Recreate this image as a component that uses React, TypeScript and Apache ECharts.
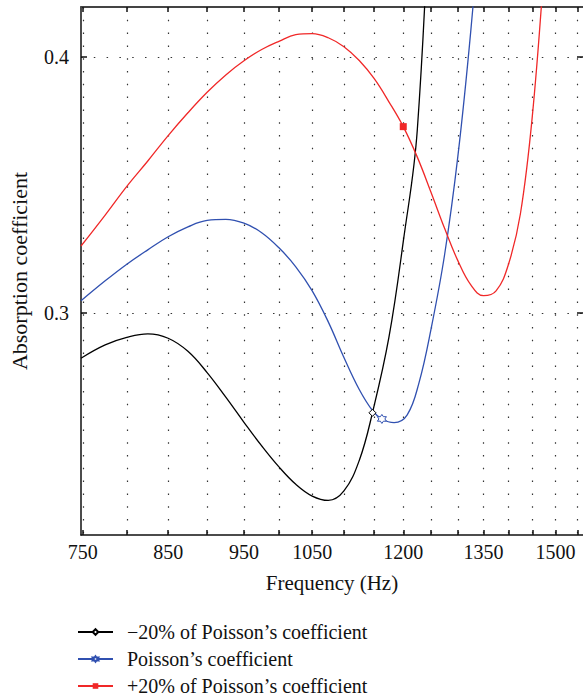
import React, { useEffect, useRef } from 'react';
import * as echarts from 'echarts';

// Axis ticks (Hz) and labels
const freqTicks = [750, 800, 850, 900, 950, 1000, 1050, 1100, 1150, 1200, 1250, 1300, 1350, 1400, 1450, 1500, 1550];
const freqLabels = [750, 850, 950, 1050, 1200, 1350, 1500];
const yTicks = [0.3, 0.4];

// -20% of Poisson's coefficient
const blackFreq = [748, 775, 800, 825, 850, 875, 900, 925, 950, 975, 1000, 1025, 1050, 1075, 1100, 1125, 1147, 1175, 1200, 1225, 1250];
const blackVal = [0.2824, 0.2876, 0.2905, 0.2919, 0.2902, 0.2851, 0.2768, 0.2672, 0.2574, 0.2482, 0.24, 0.2332, 0.2286, 0.2269, 0.2306, 0.2425, 0.2611, 0.2905, 0.3279, 0.3716, 0.48];
const blackMarker = 1147;

// Poisson's coefficient
const blueFreq = [748, 775, 800, 825, 850, 875, 900, 925, 950, 975, 1000, 1025, 1050, 1075, 1100, 1125, 1147, 1163, 1184, 1207, 1228, 1250, 1275, 1300, 1325, 1350];
const blueVal = [0.3048, 0.3126, 0.3191, 0.3247, 0.3298, 0.3337, 0.3362, 0.3366, 0.3351, 0.3314, 0.3255, 0.3181, 0.3087, 0.2966, 0.2827, 0.2702, 0.262, 0.2587, 0.2573, 0.2603, 0.2728, 0.2939, 0.3228, 0.3611, 0.4103, 0.47];
const blueMarker = 1163;

// +20% of Poisson's coefficient
const redFreq = [748, 775, 800, 825, 850, 875, 900, 925, 950, 975, 1000, 1025, 1050, 1075, 1100, 1125, 1150, 1175, 1200, 1225, 1250, 1275, 1300, 1325, 1350, 1375, 1400, 1425, 1450, 1475];
const redVal = [0.3262, 0.3383, 0.3495, 0.3594, 0.3693, 0.3782, 0.3862, 0.393, 0.3985, 0.4029, 0.4061, 0.4087, 0.4091, 0.4075, 0.404, 0.3986, 0.3915, 0.3825, 0.3728, 0.3609, 0.3471, 0.3331, 0.3205, 0.311, 0.3068, 0.3087, 0.3189, 0.3388, 0.3767, 0.4341];
const redMarker = 1200;

const names = ['\u221220% of Poisson\u2019s coefficient', 'Poisson\u2019s coefficient', '+20% of Poisson\u2019s coefficient'];

const STAR = 'path://M0,-10L2.887,-5L8.66,-5L5.774,0L8.66,5L2.887,5L0,10L-2.887,5L-8.66,5L-5.774,0L-8.66,-5L-2.887,-5Z';

export default function App() {
  const ref = useRef<HTMLDivElement>(null);
  useEffect(() => {
    const chart = echarts.init(ref.current!, null, { renderer: 'svg' });
    const L = Math.log;
    const serif = '"Liberation Serif", "DejaVu Serif", serif';
    const build = (fs: number[], vs: number[], mf: number) =>
      fs.map((f, i) => (f === mf ? { value: [L(f), vs[i]] } : { value: [L(f), vs[i]], symbol: 'none' }));
    const xmin = L(748);
    const xmax = L(1562);
    const fmt = (v: number) => String(Math.round(Math.exp(v)));
    const grid = '#333';
    const yMin = 0.2134;
    const yMax = 0.4195;
    const SM = 0.4;
    chart.setOption({
      animation: false,
      grid: { left: 79, right: 0, top: 7, bottom: 164, containLabel: false },
      legend: {
        orient: 'vertical',
        left: 77,
        top: 622,
        padding: 0,
        itemWidth: 35,
        itemHeight: 7,
        itemGap: 7,
        textStyle: { fontFamily: serif, fontSize: 20, color: '#111', padding: [0, 0, 0, 9] },
        data: names,
      },
      xAxis: [
        {
          type: 'value',
          min: xmin,
          max: xmax,
          name: 'Frequency (Hz)',
          nameLocation: 'middle',
          nameGap: 37,
          nameTextStyle: { fontFamily: serif, fontSize: 21, color: '#111' },
          axisLine: { show: true, onZero: false, lineStyle: { color: '#111', width: 1.5 } },
          axisTick: { show: true, inside: true, length: 5, customValues: freqTicks.map(L), lineStyle: { color: '#111', width: 1.5 } },
          axisLabel: { customValues: freqLabels.map(L), formatter: fmt, fontFamily: serif, fontSize: 20, color: '#111', margin: 7 },
          splitLine: { show: true, lineStyle: { color: grid, width: 1.2, type: [1.5, 11.3] } },
          minorTick: { show: false },
        },
        {
          type: 'value',
          position: 'top',
          min: xmin,
          max: xmax,
          axisLine: { show: true, onZero: false, lineStyle: { color: '#444', width: 2 } },
          axisTick: { show: true, inside: true, length: 5, customValues: freqTicks.map(L), lineStyle: { color: '#111', width: 1.5 } },
          axisLabel: { show: false },
          splitLine: { show: false },
        },
      ],
      yAxis: [
        {
          type: 'value',
          min: yMin,
          max: yMax,
          name: 'Absorption coefficient',
          nameLocation: 'middle',
          nameGap: 51,
          nameTextStyle: { fontFamily: serif, fontSize: 22, color: '#111' },
          axisLine: { show: true, onZero: false, lineStyle: { color: '#111', width: 1.5 } },
          axisTick: { show: true, inside: true, length: 6, customValues: yTicks, lineStyle: { color: '#111', width: 1.5 } },
          axisLabel: { customValues: yTicks, formatter: (v: number) => v.toFixed(1), fontFamily: serif, fontSize: 20, color: '#111', margin: 12 },
          splitLine: { show: true, lineStyle: { color: grid, width: 1.2, type: [1.5, 11.3] } },
        },
        {
          type: 'value',
          position: 'right',
          min: yMin,
          max: yMax,
          axisLine: { show: false },
          axisTick: { show: true, inside: true, length: 6, customValues: yTicks, lineStyle: { color: '#111', width: 1.5 } },
          axisLabel: { show: false },
          splitLine: { show: false },
        },
      ],
      series: [
        {
          name: names[0],
          type: 'line',
          smooth: SM,
          symbol: 'diamond',
          symbolSize: 7,
          showSymbol: true,
          showAllSymbol: true,
          clip: true,
          lineStyle: { color: '#000', width: 1.3 },
          itemStyle: { color: '#fff', borderColor: '#000', borderWidth: 1 },
          data: build(blackFreq, blackVal, blackMarker),
          z: 3,
        },
        {
          name: names[1],
          type: 'line',
          smooth: SM,
          symbol: STAR,
          symbolSize: 9,
          showSymbol: true,
          showAllSymbol: true,
          clip: true,
          lineStyle: { color: '#3050b0', width: 1.3 },
          itemStyle: { color: '#fff', borderColor: '#3050b0', borderWidth: 1 },
          data: build(blueFreq, blueVal, blueMarker),
          z: 3,
        },
        {
          name: names[2],
          type: 'line',
          smooth: SM,
          symbol: 'rect',
          symbolSize: 7,
          showSymbol: true,
          showAllSymbol: true,
          clip: true,
          lineStyle: { color: '#f02828', width: 1.3 },
          itemStyle: { color: '#f02828', borderColor: '#f02828', borderWidth: 0 },
          data: build(redFreq, redVal, redMarker),
          z: 3,
        },
      ],
    });
    return () => chart.dispose();
  }, []);
  return <div ref={ref} style={{ position: 'fixed', left: 0, top: 0, width: 583, height: 699, background: '#fff' }} />;
}
